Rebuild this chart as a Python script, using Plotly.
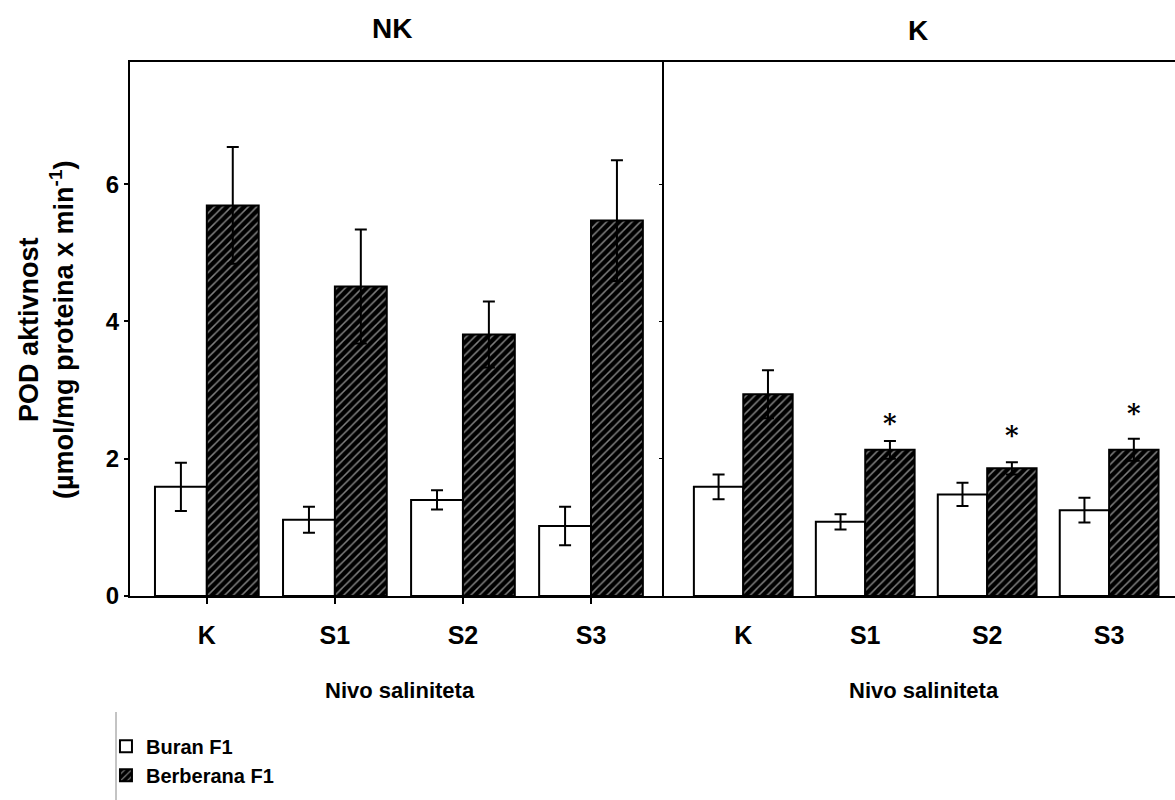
import plotly.graph_objects as go

categories = ["K", "S1", "S2", "S3"]
xpos = [0, 1, 2, 3]

# NK panel
nk_buran = [1.59, 1.11, 1.40, 1.02]
nk_buran_err = [0.35, 0.19, 0.14, 0.28]
nk_berb = [5.69, 4.51, 3.81, 5.47]
nk_berb_err = [0.85, 0.83, 0.48, 0.88]

# K panel
k_buran = [1.59, 1.08, 1.48, 1.25]
k_buran_err = [0.18, 0.11, 0.17, 0.18]
k_berb = [2.94, 2.13, 1.86, 2.13]
k_berb_err = [0.35, 0.13, 0.09, 0.16]

# significance markers (K panel, Berberana F1)
star_cats = [1, 2, 3]
star_y = [2.52, 2.35, 2.67]

y_ticks = [0, 2, 4, 6]
panel_titles = ["NK", "K"]
x_title = "Nivo saliniteta"
y_title = "POD aktivnost<br>(µmol/mg proteina x min<sup>-1</sup>)"
series_names = ["Buran F1", "Berberana F1"]

BOLD = "Liberation Sans, Arial, sans-serif"
NARROW = "Liberation Sans Narrow, Arial Narrow, sans-serif"

fig = go.Figure()

def add_panel(xa, ya, buran, buran_err, berb, berb_err, show):
    fig.add_trace(go.Bar(
        x=xpos, y=buran, name="<b>%s</b>" % series_names[0], xaxis=xa, yaxis=ya,
        offsetgroup="a", legendgroup="a", showlegend=show,
        marker=dict(color="white", line=dict(color="black", width=2)),
        error_y=dict(type="data", array=buran_err, color="black", thickness=2, width=6),
    ))
    fig.add_trace(go.Bar(
        x=xpos, y=berb, name="<b>%s</b>" % series_names[1], xaxis=xa, yaxis=ya,
        offsetgroup="b", legendgroup="b", showlegend=show,
        marker=dict(color="black", line=dict(color="black", width=2),
                    pattern=dict(shape="/", fgcolor="white", bgcolor="black",
                                 size=6, solidity=0.25)),
        error_y=dict(type="data", array=berb_err, color="black", thickness=2, width=6),
    ))

add_panel("x", "y", nk_buran, nk_buran_err, nk_berb, nk_berb_err, True)
add_panel("x2", "y2", k_buran, k_buran_err, k_berb, k_berb_err, False)

split = (664 - 130) / 1045.0

axis_common = dict(showline=True, linecolor="black", linewidth=2, showgrid=False,
                   zeroline=False, color="black")
bold_cats = ["<b>%s</b>" % c for c in categories]

fig.update_layout(
    width=1175, height=800,
    margin=dict(l=130, r=0, t=62, b=204, autoexpand=False),
    paper_bgcolor="white", plot_bgcolor="white",
    barmode="group", bargap=0.19, bargroupgap=0,
    xaxis=dict(domain=[0, split], range=[-0.60, 3.57], tickvals=xpos, ticktext=bold_cats,
               ticks="outside", ticklen=6, tickwidth=2, tickcolor="black", mirror=True,
               ticklabelstandoff=10,
               tickfont=dict(family=BOLD, size=25, color="black"), **axis_common),
    yaxis=dict(domain=[0, 1], range=[0, 7.78], tickvals=y_ticks,
               ticktext=["<b>%d</b>" % v for v in y_ticks],
               ticks="outside", ticklen=4, tickwidth=2, tickcolor="black",
               tickfont=dict(family=BOLD, size=24, color="black"), anchor="x",
               **axis_common),
    xaxis2=dict(domain=[split, 1], range=[-0.65, 3.54], tickvals=xpos, ticktext=bold_cats,
                ticks="", mirror=True, anchor="y2", ticklabelstandoff=16,
                tickfont=dict(family=BOLD, size=25, color="black"), **axis_common),
    yaxis2=dict(domain=[0, 1], range=[0, 7.78], tickvals=y_ticks, showticklabels=False,
                ticks="outside", ticklen=3, tickwidth=1, tickcolor="black", anchor="x2",
                **axis_common),
    legend=dict(x=-0.023, y=-0.245, xanchor="left", yanchor="top",
                font=dict(family=NARROW, size=20, color="black"),
                tracegroupgap=0, itemwidth=30, bgcolor="rgba(0,0,0,0)"),
    showlegend=True,
)

annotations = [
    dict(text="<b>%s</b>" % panel_titles[0], xref="paper", yref="paper",
         x=(392 - 130) / 1045, y=1.0, yshift=34, xanchor="center", yanchor="middle",
         showarrow=False, font=dict(family=BOLD, size=28, color="black")),
    dict(text="<b>%s</b>" % panel_titles[1], xref="paper", yref="paper",
         x=(918 - 130) / 1045, y=1.0, yshift=32, xanchor="center", yanchor="middle",
         showarrow=False, font=dict(family=BOLD, size=28, color="black")),
    dict(text="<b>%s</b>" % x_title, xref="paper", yref="paper",
         x=(400 - 130) / 1045, y=0, yshift=-94, xanchor="center", yanchor="middle",
         showarrow=False, font=dict(family=NARROW, size=22, color="black")),
    dict(text="<b>%s</b>" % x_title, xref="paper", yref="paper",
         x=(924 - 130) / 1045, y=0, yshift=-94, xanchor="center", yanchor="middle",
         showarrow=False, font=dict(family=NARROW, size=22, color="black")),
    dict(text="<b>%s</b>" % y_title, xref="paper", yref="paper",
         x=0, xshift=-84, y=(596 - 330) / 534, xanchor="center", yanchor="middle",
         textangle=-90, showarrow=False,
         font=dict(family=BOLD, size=27, color="black")),
]
for c, yv in zip(star_cats, star_y):
    annotations.append(dict(text="<b>*</b>", x=c + 0.205, y=yv, xref="x2", yref="y2",
                            showarrow=False, xanchor="center", yanchor="middle",
                            font=dict(family="DejaVu Serif, serif", size=26, color="black")))
fig.update_layout(annotations=annotations)

fig.add_shape(type="line", xref="paper", yref="paper",
              x0=(116 - 130) / 1045, x1=(116 - 130) / 1045,
              y0=(596 - 712) / 534, y1=(596 - 800) / 534,
              line=dict(color="#888888", width=1))

fig.write_html("out.html")
